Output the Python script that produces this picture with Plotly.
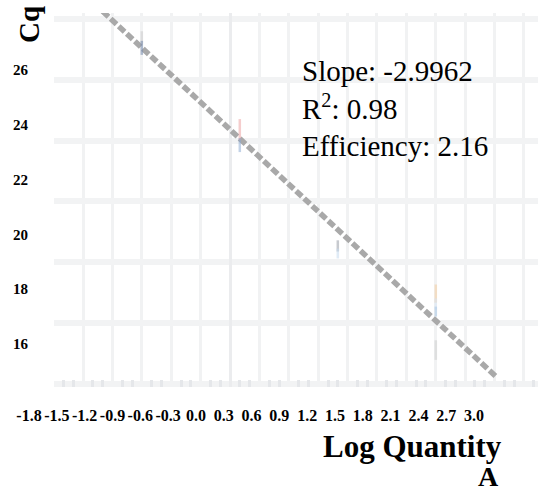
import plotly.graph_objects as go

# Standard curve: replicate Cq values against log10 quantity
log_qty = [-0.9, -0.9, 0.1, 0.1, 1.1, 1.1, 2.1, 2.1, 2.1, 2.1]
cq_vals = [27.39, 27.05, 24.36, 23.85, 20.53, 20.28, 18.96, 18.62, 18.37, 17.10]

# Linear fit reported on the chart
slope = -2.9962
intercept = 24.36
r_squared = 0.98
efficiency = 10 ** (-1 / slope)
fit_extent = [-1.3, 2.73]

# Tick labels
x_tick_vals = [-1.8, -1.5, -1.2, -0.9, -0.6, -0.3, 0.0, 0.3, 0.6, 0.9,
               1.2, 1.5, 1.8, 2.1, 2.4, 2.7, 3.0]
x_tick_text = ["-1.8", "-1.5", "-1.2", "-0.9", "-0.6", "-0.3", "0.0", "0.3",
               "0.6", "0.9", "1.2", "1.5", "1.8", "2.1", "2.4", "2.7", "3.0"]
y_tick_vals = [16, 18, 20, 22, 24, 26]

# Replicate mark styling (one entry per replicate)
rep_colors = ["rgba(200,200,200,0.7)", "rgba(120,140,175,0.8)",
              "rgba(238,160,160,0.75)", "rgba(140,170,210,0.75)",
              "rgba(150,155,165,0.75)", "rgba(200,220,240,0.8)",
              "rgba(244,205,160,0.8)", "rgba(215,230,245,0.8)",
              "rgba(170,200,230,0.8)", "rgba(205,205,205,0.75)"]
rep_sizes = [9, 10, 15, 10, 8, 7, 13, 8, 7, 14]

W, H = 538, 491
SERIF = "'Liberation Serif', 'Times New Roman', Times, 'DejaVu Serif', serif"

fit_y = [intercept + slope * v for v in fit_extent]

fig = go.Figure()

fig.add_trace(go.Scatter(
    x=fit_extent, y=fit_y, mode="lines",
    line=dict(color="#a9a9a9", width=5.5, dash="8px,3px"),
    hoverinfo="skip", showlegend=False,
))

fig.add_trace(go.Scatter(
    x=log_qty, y=cq_vals, mode="markers",
    marker=dict(symbol="line-ns", size=rep_sizes,
                line=dict(color=rep_colors, width=2.5)),
    showlegend=False,
))

# Placeholder trace so the labelling axes form their own subplot
fig.add_trace(go.Scatter(x=[None], y=[None], xaxis="x2", yaxis="y2",
                         hoverinfo="skip", showlegend=False))

y_dom = [(H - 387) / H, (H - 13) / H]

fig.update_layout(
    width=W, height=H,
    margin=dict(l=0, r=0, t=0, b=0),
    paper_bgcolor="white",
    plot_bgcolor="rgba(0,0,0,0)",
    showlegend=False,
    font=dict(family=SERIF),
    xaxis=dict(
        domain=[54 / W, 1], range=[-1.796, 3.143],
        tick0=0, dtick=0.3, showticklabels=False, ticks="",
        showgrid=True, gridcolor="#f1f2f3", gridwidth=3,
        zeroline=True, zerolinecolor="#ebecee", zerolinewidth=3,
        showline=False,
        minor=dict(ticks="inside", tick0=0, dtick=0.1, ticklen=7,
                   tickwidth=3, tickcolor="#e5e7ea", showgrid=False),
    ),
    yaxis=dict(
        domain=y_dom, range=[15.885, 28.198],
        tick0=0, dtick=2, showticklabels=False, ticks="",
        showgrid=True, gridcolor="#f2f3f4", gridwidth=6,
        zeroline=False, showline=False,
    ),
    xaxis2=dict(
        domain=[0, 1], anchor="y2", range=[-2.113, 3.690],
        tickmode="array", tickvals=x_tick_vals, ticktext=x_tick_text,
        ticks="outside", ticklen=14, tickcolor="rgba(0,0,0,0)",
        showgrid=False, zeroline=False, showline=False,
        tickfont=dict(family=SERIF, size=16, color="black", weight="bold"),
    ),
    yaxis2=dict(
        domain=y_dom, anchor="free", position=28 / W,
        range=[14.43, 28.08],
        tickmode="array", tickvals=y_tick_vals,
        ticks="", showgrid=False, zeroline=False, showline=False,
        tickfont=dict(family=SERIF, size=15, color="black", weight="bold"),
    ),
)

stats_text = (f"Slope: {slope:.4f}<br>R<sup>2</sup>: {r_squared:.2f}"
              f"<br>Efficiency: {efficiency:.2f}")

fig.add_annotation(
    text=stats_text, xref="paper", yref="paper",
    x=300 / W, y=(H - 109) / H, xanchor="left", yanchor="middle",
    align="left", showarrow=False,
    font=dict(family=SERIF, size=29, color="black"),
)

fig.add_annotation(
    text="Cq", xref="paper", yref="paper",
    x=29 / W, y=(H - 25) / H, xanchor="center", yanchor="middle",
    textangle=-90, showarrow=False,
    font=dict(family=SERIF, size=29, color="black", weight="bold"),
)

fig.add_annotation(
    text="Log Quantity", xref="paper", yref="paper",
    x=504 / W, y=(H - 446) / H, xanchor="right", yanchor="middle",
    showarrow=False,
    font=dict(family=SERIF, size=31, color="black", weight="bold"),
)

fig.add_annotation(
    text="A", xref="paper", yref="paper",
    x=501 / W, y=(H - 476) / H, xanchor="right", yanchor="middle",
    showarrow=False,
    font=dict(family=SERIF, size=28, color="black", weight="bold"),
)

fig.write_html("out.html")
